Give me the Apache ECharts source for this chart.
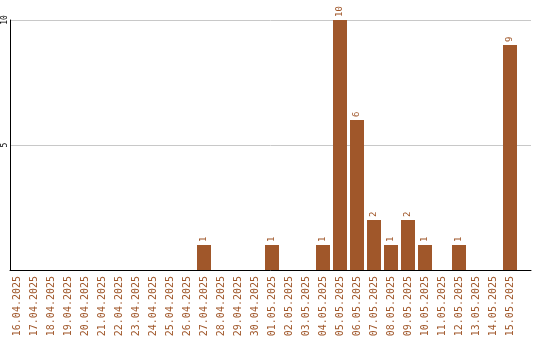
<!DOCTYPE html>
<html>
<head>
<meta charset="utf-8">
<script src="https://cdn.jsdelivr.net/npm/echarts@6/dist/echarts.min.js"></script>
<style>html,body{margin:0;padding:0;background:#fff}#c{width:540px;height:340px}</style>
</head>
<body>
<div id="c"></div>
<script>
var categories = ["16.04.2025","17.04.2025","18.04.2025","19.04.2025","20.04.2025","21.04.2025","22.04.2025","23.04.2025","24.04.2025","25.04.2025","26.04.2025","27.04.2025","28.04.2025","29.04.2025","30.04.2025","01.05.2025","02.05.2025","03.05.2025","04.05.2025","05.05.2025","06.05.2025","07.05.2025","08.05.2025","09.05.2025","10.05.2025","11.05.2025","12.05.2025","13.05.2025","14.05.2025","15.05.2025"];
var values = [0,0,0,0,0,0,0,0,0,0,0,1,0,0,0,1,0,0,1,10,6,2,1,2,1,0,1,0,0,9];
var yTicks = [0,5,10];

var brown = '#a0572a';
var font = '"DejaVu Sans Mono", monospace';
var chart = echarts.init(document.getElementById('c'));
chart.setOption({
  animation: false,
  grid: [
    {left: 10, right: 9, top: 20, bottom: 70},
    {left: 8.5, width: 510, top: 20, bottom: 70}
  ],
  xAxis: [
    {gridIndex: 0, type: 'value', min: 0, max: 1, axisLine: {show: true, lineStyle: {color: '#000', width: 1}}, axisTick: {show: false}, axisLabel: {show: false}, splitLine: {show: false}},
    {gridIndex: 1, type: 'category', data: categories, axisLine: {show: false}, axisTick: {show: false},
     axisLabel: {interval: 0, rotate: 90, margin: 6, color: brown, fontFamily: font, fontSize: 10}}
  ],
  yAxis: [
    {gridIndex: 0, type: 'value', min: yTicks[0], max: yTicks[2], interval: 5,
     axisLine: {show: true, lineStyle: {color: '#000', width: 1}}, axisTick: {show: false},
     axisLabel: {rotate: 90, margin: 1, color: '#000', fontFamily: font, fontSize: 8, formatter: function(v){return v===0?'':v;}},
     splitLine: {show: true, lineStyle: {color: '#c8c8c8', width: 1}}},
    {gridIndex: 1, type: 'value', min: yTicks[0], max: yTicks[2], show: false}
  ],
  series: [{
    type: 'bar', xAxisIndex: 1, yAxisIndex: 1, data: values, barWidth: 14,
    itemStyle: {color: brown},
    label: {show: true, position: 'top', rotate: 90, align: 'left', verticalAlign: 'middle', distance: 3,
      color: brown, fontFamily: font, fontSize: 9,
      formatter: function(p){return p.value ? String(p.value) : '';}}
  }]
});
</script>
</body>
</html>
